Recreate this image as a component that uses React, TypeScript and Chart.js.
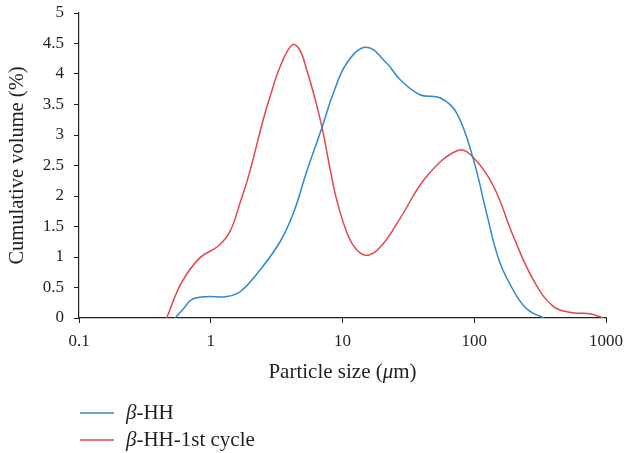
import React, { useEffect, useRef } from "react";
import { Chart, registerables } from "chart.js";

Chart.register(...registerables);

const sizeBlue = [0.536, 0.62, 0.716, 0.93, 1.31, 1.67, 2.37, 3.36, 4.24, 5.35, 7.03, 8.5, 10.8, 15.1, 21.6, 27.3, 38.7, 54.9, 73.6, 98.5, 124, 157, 210, 260, 340];
const volBlue = [0, 0.15, 0.3, 0.35, 0.35, 0.43, 0.79, 1.25, 1.72, 2.4, 3.14, 3.68, 4.18, 4.44, 4.18, 3.91, 3.66, 3.61, 3.36, 2.6, 1.72, 0.9, 0.36, 0.12, 0];

const sizeRed = [0.463, 0.6, 0.83, 1.14, 1.4, 1.67, 1.95, 2.5, 2.82, 3.36, 4.16, 4.75, 5.35, 6.0, 7.03, 8.04, 9.03, 10.8, 12.8, 15.7, 20.4, 27.3, 43.5, 75.7, 98.5, 140, 198, 280, 398, 565, 755, 955];
const volRed = [0, 0.58, 0.99, 1.18, 1.42, 1.89, 2.35, 3.25, 3.63, 4.12, 4.48, 4.39, 4.07, 3.7, 3.1, 2.45, 1.94, 1.4, 1.12, 1.03, 1.22, 1.63, 2.32, 2.75, 2.63, 2.16, 1.34, 0.63, 0.19, 0.085, 0.07, 0];

const xTicks = [0.1, 1, 10, 100, 1000];
const seriesNames = ["HH", "HH-1st cycle"];
const seriesColors = ["#2f88ca", "#e1474d"];

const SERIF = "'Liberation Serif', 'DejaVu Serif', serif";

type Seg = { t: string; italic: boolean };

function drawSegs(ctx: CanvasRenderingContext2D, segs: Seg[], x: number, y: number, size: number, align: "left" | "center") {
  const fontOf = (it: boolean) => `${it ? "italic " : ""}${size}px ${SERIF}`;
  let total = 0;
  const widths = segs.map((s) => {
    ctx.font = fontOf(s.italic);
    const w = ctx.measureText(s.t).width;
    total += w;
    return w;
  });
  let cx = align === "center" ? x - total / 2 : x;
  segs.forEach((s, i) => {
    ctx.font = fontOf(s.italic);
    ctx.fillText(s.t, cx, y);
    cx += widths[i];
  });
}

const overlayPlugin = {
  id: "overlay",
  afterDraw(chart: any) {
    const ctx: CanvasRenderingContext2D = chart.ctx;
    const area = chart.chartArea;
    ctx.save();
    ctx.fillStyle = "#231f20";
    ctx.textBaseline = "middle";
    ctx.textAlign = "left";
    drawSegs(
      ctx,
      [
        { t: "Particle size (", italic: false },
        { t: "\u03bc", italic: true },
        { t: "m)", italic: false },
      ],
      (area.left + area.right) / 2,
      372,
      21,
      "center"
    );
    const ys = [413, 440];
    seriesNames.forEach((name, i) => {
      ctx.strokeStyle = seriesColors[i];
      ctx.lineWidth = 1.5;
      ctx.beginPath();
      ctx.moveTo(area.left + 1, ys[i]);
      ctx.lineTo(area.left + 35, ys[i]);
      ctx.stroke();
      ctx.fillStyle = "#231f20";
      drawSegs(
        ctx,
        [
          { t: "\u03b2", italic: true },
          { t: "-" + name, italic: false },
        ],
        area.left + 47,
        ys[i],
        21,
        "left"
      );
    });
    ctx.restore();
  },
};

export default function App() {
  const ref = useRef<HTMLCanvasElement | null>(null);
  useEffect(() => {
    document.body.style.margin = "0";
    if (!ref.current) return;
    const chart = new Chart(ref.current, {
      type: "line",
      data: {
        datasets: [
          {
            label: "β-HH",
            data: sizeBlue.map((x, i) => ({ x, y: volBlue[i] })),
            borderColor: seriesColors[0],
            borderWidth: 1.5,
            pointRadius: 0,
            fill: false,
            tension: 0.4,
          },
          {
            label: "β-HH-1st cycle",
            data: sizeRed.map((x, i) => ({ x, y: volRed[i] })),
            borderColor: seriesColors[1],
            borderWidth: 1.5,
            pointRadius: 0,
            fill: false,
            tension: 0.4,
          },
        ],
      },
      options: {
        responsive: false,
        animation: false,
        layout: { padding: { top: 13, right: 19, bottom: 0, left: 0 } },
        plugins: { legend: { display: false }, tooltip: { enabled: false } },
        scales: {
          x: {
            type: "logarithmic",
            min: 0.1,
            max: 1000,
            afterBuildTicks: (scale: any) => {
              scale.ticks = xTicks.map((v) => ({ value: v }));
            },
            afterFit: (scale: any) => {
              scale.height = 135;
              scale.paddingLeft = 0;
              scale.paddingRight = 0;
            },
            ticks: {
              autoSkip: false,
              maxRotation: 0,
              padding: 8,
              color: "#231f20",
              font: { family: SERIF, size: 17 },
              callback: (v: any) => String(v),
            },
            grid: {
              display: true,
              drawOnChartArea: false,
              drawTicks: true,
              tickLength: 5,
              color: "#231f20",
            },
            border: { display: true, color: "#231f20", width: 1.2 },
          },
          y: {
            type: "linear",
            min: 0,
            max: 5,
            afterFit: (scale: any) => {
              scale.width = 79;
              scale.paddingTop = 0;
              scale.paddingBottom = 0;
            },
            ticks: {
              stepSize: 0.5,
              padding: 10,
              color: "#231f20",
              font: { family: SERIF, size: 17 },
              callback: (v: any) => String(Math.round(Number(v) * 10) / 10),
            },
            grid: {
              display: true,
              drawOnChartArea: false,
              drawTicks: true,
              tickLength: 5,
              color: "#231f20",
            },
            border: { display: true, color: "#231f20", width: 1.2 },
            title: {
              display: true,
              text: "Cumulative volume (%)",
              color: "#231f20",
              font: { family: SERIF, size: 20.5 },
              padding: { top: 5, bottom: 0 },
            },
          },
        },
      },
      plugins: [overlayPlugin],
    } as any);
    return () => chart.destroy();
  }, []);
  return <canvas ref={ref} width={625} height={453} style={{ display: "block" }} />;
}
